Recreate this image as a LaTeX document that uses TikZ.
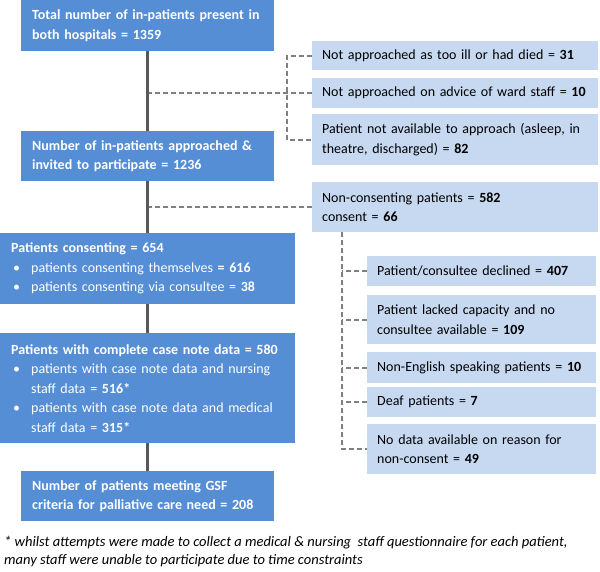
\documentclass[tikz,border=0pt]{standalone}
\usepackage{fontspec}
\setmainfont{Carlito}
\definecolor{boxblue}{RGB}{85,142,213}
\definecolor{paleblue}{RGB}{198,217,241}
\definecolor{trunkgrey}{RGB}{89,89,89}
\definecolor{dashgrey}{RGB}{128,128,128}
\tikzset{
  mainbox/.style={fill=boxblue,text=white,anchor=north west,align=left,
    inner xsep=11pt,inner ysep=0pt,font=\fontsize{14}{19.5}\selectfont\bfseries},
  sidebox/.style={fill=paleblue,text=black,anchor=north west,align=left,
    inner xsep=10pt,inner ysep=0pt,font=\fontsize{14}{19.5}\selectfont},
  trunk/.style={draw=trunkgrey,line width=2.5pt},
  branch/.style={draw=dashgrey,line width=2pt,dash pattern=on 5pt off 3pt}
}
\newcommand{\bul}{\hspace*{2pt}\makebox[18pt][l]{\textbullet}}
\newcommand{\indt}{\hspace*{20pt}}

\begin{document}
\begin{tikzpicture}[x=1pt,y=-1pt]
  \useasboundingbox (0,0) rectangle (600,571);
  % main column
  \node[mainbox,text width=231pt,minimum height=51pt] (total) at (21,0)
    {Total number of in-patients present in\\both hospitals = 1359};
  \node[mainbox,text width=231pt,minimum height=50pt] (approached) at (21,131)
    {Number of in-patients approached \&\\invited to participate = 1236};
  \node[mainbox,text width=273pt,minimum height=71pt] (consenting) at (0,233)
    {Patients consenting = 654\\
     {\mdseries\bul patients consenting themselves \textbf{= 616}}\\
     {\mdseries\bul patients consenting via consultee = \textbf{38}}};
  \node[mainbox,text width=273pt,minimum height=110pt] (casenote) at (0,333)
    {Patients with complete case note data = 580\\
     {\mdseries\bul patients with case note data and nursing}\\
     {\mdseries\indt staff data = \textbf{516*}}\\
     {\mdseries\bul patients with case note data and medical}\\
     {\mdseries\indt staff data = \textbf{315*}}};
  \node[mainbox,text width=231pt,minimum height=50pt] (gsf) at (21,471)
    {Number of patients meeting GSF\\criteria for palliative care need = 208};
  % excluded before approach
  \node[sidebox,text width=266pt,minimum height=29pt] (notill) at (312,41)
    {Not approached as too ill or had died = \textbf{31}};
  \node[sidebox,text width=266pt,minimum height=30pt] (advice) at (312,78)
    {Not approached on advice of ward staff = \textbf{10}};
  \node[sidebox,text width=266pt,minimum height=51pt] (notavail) at (312,114)
    {Patient not available to approach (asleep, in\\theatre, discharged) = \textbf{82}};
  % non-consent
  \node[sidebox,text width=266pt,minimum height=50pt] (noncons) at (312,182)
    {Non-consenting patients = \textbf{582}\\consent = \textbf{66}};
  \node[sidebox,text width=209pt,minimum height=30pt] (declined) at (367,256)
    {Patient/consultee declined = \textbf{407}};
  \node[sidebox,text width=209pt,minimum height=49pt] (lacked) at (367,295)
    {Patient lacked capacity and no\\consultee available = \textbf{109}};
  \node[sidebox,text width=209pt,minimum height=31pt] (nonenglish) at (367,352)
    {Non-English speaking patients = \textbf{10}};
  \node[sidebox,text width=209pt,minimum height=30pt] (deaf) at (367,387)
    {Deaf patients = \textbf{7}};
  \node[sidebox,text width=209pt,minimum height=50pt] (nodata) at (367,424)
    {No data available on reason for\\non-consent = \textbf{49}};
  % footnote
  \node[anchor=north west,align=left,inner sep=0pt,
    font=\fontsize{14.5}{18}\selectfont\itshape] (note) at (4,536)
    {* whilst attempts were made to collect a medical \& nursing\ \ staff questionnaire for each patient,\\
     many staff were unable to participate due to time constraints};

  \coordinate (spineA) at (287,0);
  \coordinate (spineB) at (342,0);
  \begin{scope}[branch]
    \draw (advice.west) -- (advice.west -| total.south);
    \draw (notill.west) -- (notill.west -| spineA) |- (notavail.west);
    \draw (noncons.west) -- (noncons.west -| total.south);
    \draw (noncons.south -| spineB) |- (nodata.west);
    \foreach \n in {declined,lacked,nonenglish,deaf}
      \draw (\n.west) -- (\n.west -| spineB);
  \end{scope}
  \begin{scope}[trunk]
    \draw (total.south) -- (approached.north);
    \draw (approached.south) -- (consenting.north);
    \draw (consenting.south) -- (casenote.north);
    \draw (casenote.south) -- (gsf.north);
  \end{scope}
\end{tikzpicture}
\end{document}
